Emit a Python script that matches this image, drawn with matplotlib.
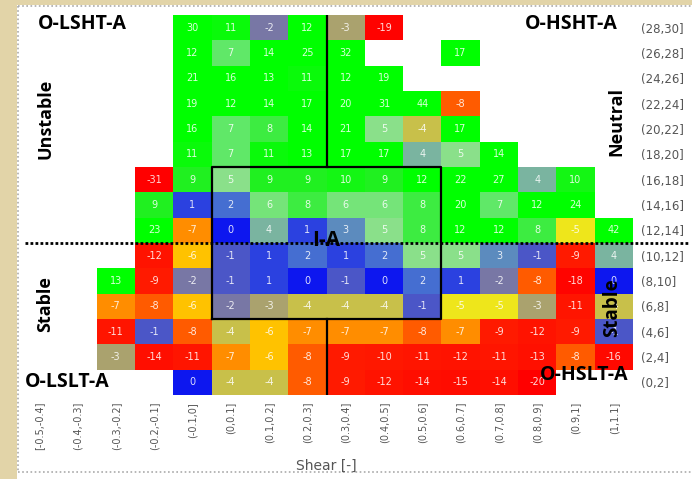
import numpy as np
import matplotlib
matplotlib.use('Agg')
import matplotlib.pyplot as plt
from matplotlib.colors import LinearSegmentedColormap, Normalize
from matplotlib.patches import Rectangle
from matplotlib.lines import Line2D

# shear bins (x) and temperature bins (y, listed top row first as in the picture)
shear_bins = ['[-0.5,-0.4]', '(-0.4,-0.3]', '(-0.3,-0.2]', '(-0.2,-0.1]', '(-0.1,0]',
              '(0,0.1]', '(0.1,0.2]', '(0.2,0.3]', '(0.3,0.4]', '(0.4,0.5]',
              '(0.5,0.6]', '(0.6,0.7]', '(0.7,0.8]', '(0.8,0.9]', '(0.9,1]', '(1,1.1]']
row_bins = ['(28,30]', '(26,28]', '(24,26]', '(22,24]', '(20,22]', '(18,20]', '(16,18]',
            '(14,16]', '(12,14]', '(10,12]', '(8,10]', '(6,8]', '(4,6]', '(2,4]', '(0,2]']

N = None
values = [
    [N, N, N, N, 30, 11, -2, 12, -3, -19, N, N, N, N, N, N],
    [N, N, N, N, 12, 7, 14, 25, 32, N, N, 17, N, N, N, N],
    [N, N, N, N, 21, 16, 13, 11, 12, 19, N, N, N, N, N, N],
    [N, N, N, N, 19, 12, 14, 17, 20, 31, 44, -8, N, N, N, N],
    [N, N, N, N, 16, 7, 8, 14, 21, 5, -4, 17, N, N, N, N],
    [N, N, N, N, 11, 7, 11, 13, 17, 17, 4, 5, 14, N, N, N],
    [N, N, N, -31, 9, 5, 9, 9, 10, 9, 12, 22, 27, 4, 10, N],
    [N, N, N, 9, 1, 2, 6, 8, 6, 6, 8, 20, 7, 12, 24, N],
    [N, N, N, 23, -7, 0, 4, 1, 3, 5, 8, 12, 12, 8, -5, 42],
    [N, N, N, -12, -6, -1, 1, 2, 1, 2, 5, 5, 3, -1, -9, 4],
    [N, N, 13, -9, -2, -1, 1, 0, -1, 0, 2, 1, -2, -8, -18, 0],
    [N, N, -7, -8, -6, -2, -3, -4, -4, -4, -1, -5, -5, -3, -11, -4],
    [N, N, -11, -1, -8, -4, -6, -7, -7, -7, -8, -7, -9, -12, -9, -1],
    [N, N, -3, -14, -11, -7, -6, -8, -9, -10, -11, -12, -11, -13, -8, -16],
    [N, N, N, N, 0, -4, -4, -8, -9, -12, -14, -15, -14, -20, N, N],
]

# colour anchors (value -> colour)
anchor_vals = [-20, -9, -8, -7, -6, -5, -4, -3, -2, -1, 0, 1, 2, 3, 4, 5, 7, 9, 12, 20]
anchor_cols = ['#ff0000', '#ff1a00', '#ff6000', '#ff8c00', '#ffc400', '#f0e818',
               '#c8c04a', '#a8a070', '#7a78a4', '#4a55c8', '#0a14f0', '#2a40e0',
               '#4670d0', '#5a88c0', '#7ab4a0', '#8ce08c', '#60e868', '#20f020',
               '#00ff00', '#00ff00']
vmin, vmax = -20, 20
cmap = LinearSegmentedColormap.from_list(
    'shear', [((v - vmin) / (vmax - vmin), c) for v, c in zip(anchor_vals, anchor_cols)])

data = np.array([[np.nan if v is None else v for v in row] for row in values], dtype=float)
data = data[::-1]  # bottom row first
masked = np.ma.masked_invalid(data)

W, H = 692, 479
fig = plt.figure(figsize=(W / 100, H / 100), dpi=100, facecolor='#e2d4a8')
fig.patches.append(Rectangle((17 / W, 0), 1, 1 - 5 / H, transform=fig.transFigure,
                             facecolor='white', edgecolor='none', zorder=-10))
for xs, ys in [([18, 692], [6, 6]), ([18, 18], [6, 472]), ([18, 692], [472, 472])]:
    fig.lines.append(Line2D([x / W for x in xs], [1 - y / H for y in ys],
                            transform=fig.transFigure, color='#aaaaaa', lw=1.2,
                            linestyle=(0, (1, 1.5)), zorder=-5))

ax = fig.add_axes([20 / W, 1 - 395 / H, 613 / W, 380 / H])
ax.set_facecolor('none')
ax.pcolormesh(np.arange(17), np.arange(16), masked, cmap=cmap,
              norm=Normalize(vmin, vmax, clip=True), edgecolors='none')
ax.set_xlim(0, 16)
ax.set_ylim(0, 15)

for i in range(data.shape[0]):
    for j in range(data.shape[1]):
        if not np.isnan(data[i, j]):
            ax.text(j + 0.5, i + 0.5, str(int(data[i, j])), ha='center', va='center',
                    color='white', alpha=0.85, fontsize=7)

for s in ax.spines.values():
    s.set_visible(False)
ax.set_xticks(np.arange(16) + 0.5)
ax.set_xticklabels(shear_bins, rotation=90, va='top')
ax.set_yticks(np.arange(15) + 0.5)
ax.set_yticklabels(row_bins[::-1])
ax.yaxis.tick_right()
ax.tick_params(axis='x', length=0, pad=5, labelsize=7, labelcolor='#555555')
ax.tick_params(axis='y', length=0, pad=6, labelsize=8.5, labelcolor='#555555')
ax.set_xlabel('Shear [-]', fontsize=10, color='#555555', labelpad=6)

# region lines
ax.plot([5, 11, 11, 5, 5], [3, 3, 9, 9, 3], color='black', lw=1.6)
ax.plot([8, 8], [9, 15], color='black', lw=1.6)
ax.plot([8, 8], [0, 3], color='black', lw=1.6)
ax.plot([0.13, 17.5], [6, 6], color='black', lw=2, linestyle=(0, (1, 0.8)), clip_on=False)

lab = dict(fontfamily='Open Sans', fontweight='bold', color='black')
def ftext(x, y, s, **kw):
    fig.text(x / W, 1 - y / H, s, ha='center', va='center', **lab, **kw)

ftext(82, 24, 'O-LSHT-A', fontsize=14)
ftext(571, 24, 'O-HSHT-A', fontsize=14)
ftext(67, 382, 'O-LSLT-A', fontsize=14)
ftext(584, 375, 'O-HSLT-A', fontsize=14)
ftext(46, 119, 'Unstable', fontsize=13, rotation=90)
ftext(45, 304, 'Stable', fontsize=13, rotation=90)
ftext(616, 122, 'Neutral', fontsize=13, rotation=90)
ftext(612, 308, 'Stable', fontsize=13.5, rotation=90)
ftext(326, 240, 'I-A', fontsize=15)

fig.savefig('out.png', dpi=100, facecolor=fig.get_facecolor())
